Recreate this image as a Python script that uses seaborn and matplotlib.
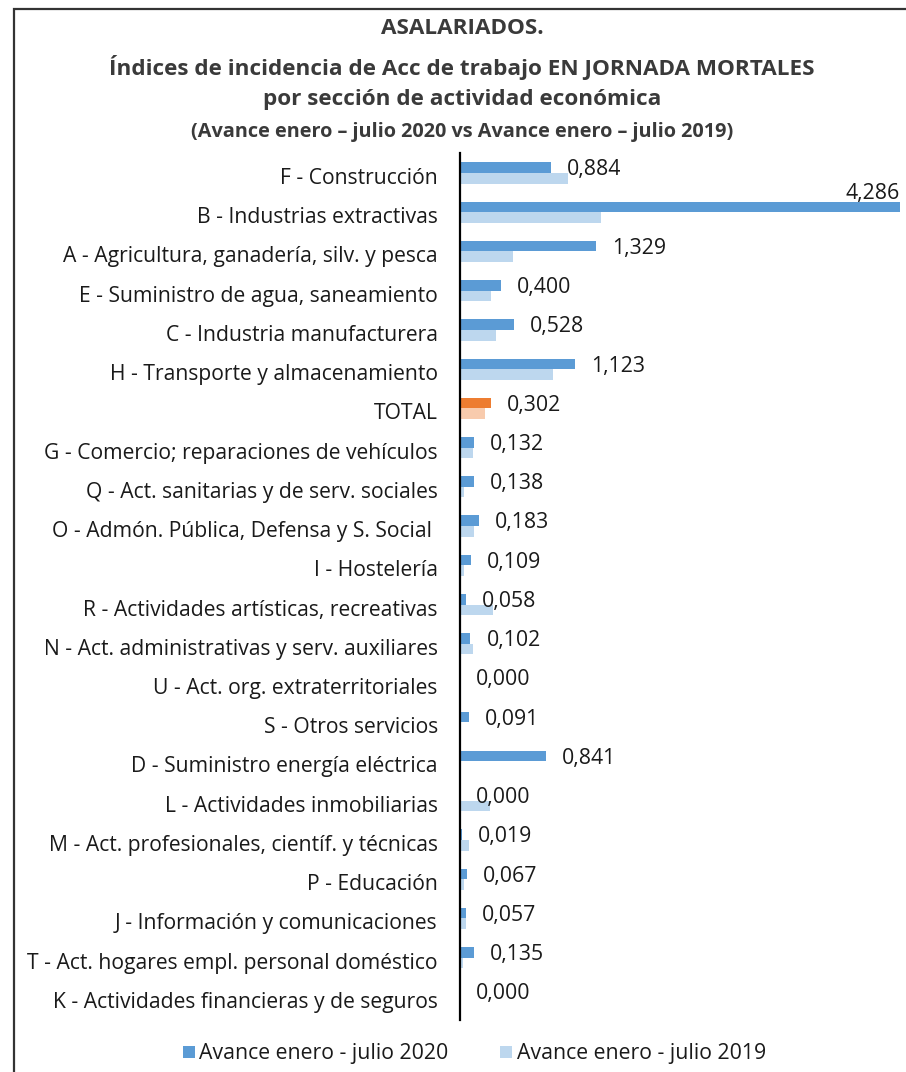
import matplotlib
matplotlib.use("Agg")
import matplotlib.pyplot as plt
from matplotlib.patches import Rectangle
from matplotlib.lines import Line2D
from matplotlib.transforms import ScaledTranslation
import seaborn as sns
import pandas as pd

# Fatal on-duty work accident incidence rates by economic activity section
categories = [
    "F - Construcción",
    "B - Industrias extractivas",
    "A - Agricultura, ganadería, silv. y pesca",
    "E - Suministro de agua, saneamiento",
    "C - Industria manufacturera",
    "H - Transporte y almacenamiento",
    "TOTAL",
    "G - Comercio; reparaciones de vehículos",
    "Q - Act. sanitarias y de serv. sociales",
    "O - Admón. Pública, Defensa y S. Social ",
    "I - Hostelería",
    "R - Actividades artísticas, recreativas",
    "N - Act. administrativas y serv. auxiliares",
    "U - Act. org. extraterritoriales",
    "S - Otros servicios",
    "D - Suministro energía eléctrica",
    "L - Actividades inmobiliarias",
    "M - Act. profesionales, científ. y técnicas",
    "P - Educación",
    "J - Información y comunicaciones",
    "T - Act. hogares empl. personal doméstico",
    "K - Actividades financieras y de seguros",
]
values_2020 = [0.884, 4.286, 1.329, 0.400, 0.528, 1.123, 0.302, 0.132, 0.138,
               0.183, 0.109, 0.058, 0.102, 0.000, 0.091, 0.841, 0.000, 0.019,
               0.067, 0.057, 0.135, 0.000]
values_2019 = [1.05, 1.37, 0.52, 0.30, 0.35, 0.91, 0.24, 0.13, 0.04,
               0.14, 0.04, 0.32, 0.13, 0.00, 0.00, 0.00, 0.29, 0.09,
               0.04, 0.06, 0.03, 0.00]
series_names = ["Avance enero - julio 2020", "Avance enero - julio 2019"]

title_lines = [
    "ASALARIADOS.",
    "Índices de incidencia de Acc de trabajo EN JORNADA MORTALES",
    "por sección de actividad económica",
    "(Avance enero – julio 2020 vs Avance enero – julio 2019)",
]

DARK = "#5B9BD5"
LIGHT = "#BDD7EE"
ORANGE = "#ED7D31"
LIGHT_ORANGE = "#F8CBAD"
TEXT = "#1a1a1a"

sns.set_theme(style="white")
plt.rcParams["font.family"] = ["Open Sans", "DejaVu Sans"]

df = pd.DataFrame({
    "Sección": categories * 2,
    "Índice": values_2020 + values_2019,
    "Serie": [series_names[0]] * len(categories) + [series_names[1]] * len(categories),
})

fig = plt.figure(figsize=(9.06, 10.72), dpi=100)
ax = fig.add_axes([460 / 906, 1 - 1020 / 1072, 440 / 906, (1020 - 153) / 1072])

sns.barplot(data=df, x="Índice", y="Sección", hue="Serie", order=categories,
            hue_order=series_names, palette=[DARK, LIGHT], width=0.54,
            saturation=1, linewidth=0, orient="h", legend=False, ax=ax)

# Highlight the TOTAL row in orange tones
total_idx = categories.index("TOTAL")
ax.containers[0][total_idx].set_facecolor(ORANGE)
ax.containers[1][total_idx].set_facecolor(LIGHT_ORANGE)

xmax = max(values_2020)
ax.set_xlim(0, xmax)
ax.set_ylim(len(categories) - 1 + 0.59, -0.51)
ax.set_xlabel("")
ax.set_ylabel("")
ax.set_xticks([])
for side in ["top", "right", "bottom"]:
    ax.spines[side].set_visible(False)
ax.spines["left"].set_color("black")
ax.spines["left"].set_linewidth(1.6)
ax.tick_params(axis="y", length=0, pad=16, labelsize=15.2, labelcolor=TEXT)
shift_down = ScaledTranslation(0, -3 / 100, fig.dpi_scale_trans)
for lbl in ax.get_yticklabels():
    lbl.set_transform(lbl.get_transform() + shift_down)

# Value labels for the 2020 series
for i, v in enumerate(values_2020):
    label = f"{v:.3f}".replace(".", ",")
    if v >= 0.9 * xmax:
        ax.annotate(label, xy=(v, i - 0.135), xytext=(0, 10), textcoords="offset points",
                    ha="right", va="center", fontsize=15.3, color=TEXT,
                    annotation_clip=False)
    else:
        ax.annotate(label, xy=(v, i - 0.08), xytext=(11.5, 0), textcoords="offset points",
                    ha="left", va="center", fontsize=15.3, color=TEXT,
                    annotation_clip=False)

# Title block
title_y = [28, 67, 100, 132]
title_size = [16.2, 16.2, 16.2, 14.3]
for txt, y, s in zip(title_lines, title_y, title_size):
    fig.text(462 / 906, 1 - y / 1072, txt, ha="center", va="center",
             fontsize=s, fontweight="bold", color="#3a3a3a")

# Legend
handles = [Line2D([], [], marker="s", linestyle="none", markersize=9,
                  markerfacecolor=c, markeredgewidth=0) for c in (DARK, LIGHT)]
fig.legend(handles, series_names, loc="center", bbox_to_anchor=(473 / 906, 1 - 1054 / 1072),
           ncol=2, frameon=False, fontsize=15.3, handletextpad=0.1, columnspacing=2.3,
           handlelength=0.8, labelcolor=TEXT)

# Chart frame
fig.patches.append(Rectangle((14 / 906, -0.01), 1.0, 1 - 9 / 1072 + 0.01,
                             transform=fig.transFigure, fill=False,
                             edgecolor="#333333", linewidth=1.6))

fig.savefig("out.png", dpi=100)
